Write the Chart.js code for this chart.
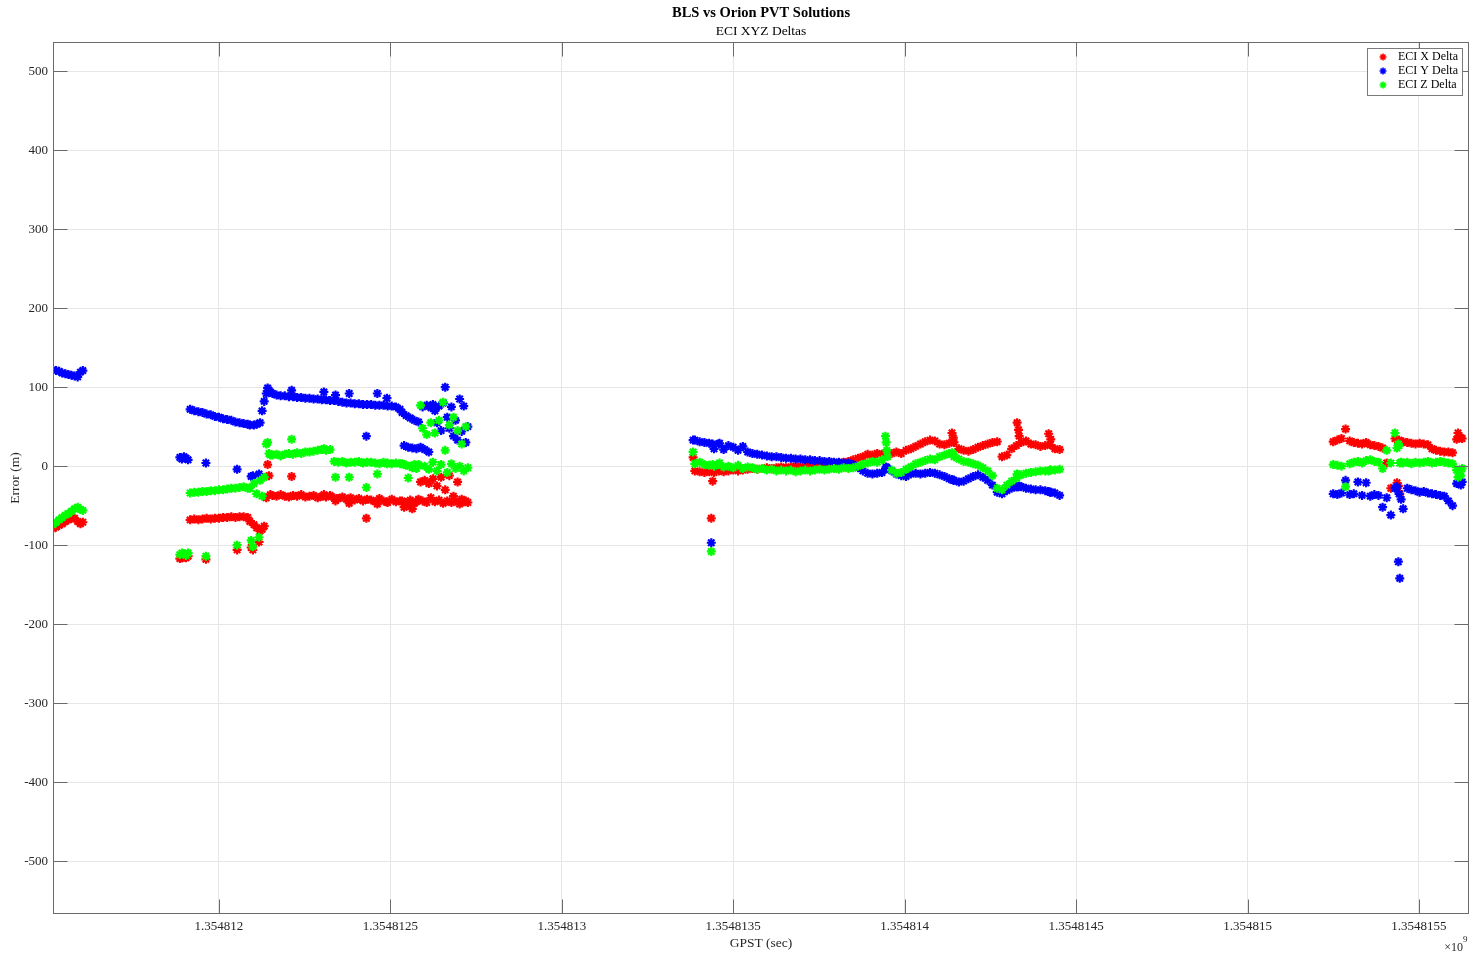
<!DOCTYPE html>
<html>
<head>
<meta charset="utf-8">
<title>BLS vs Orion PVT Solutions</title>
<script src="https://cdn.jsdelivr.net/npm/chart.js@4/dist/chart.umd.min.js"></script>
<style>
    html, body { margin: 0; padding: 0; background: #fff; }
    #wrap { width: 1480px; height: 957px; position: relative; }
</style>
</head>
<body>
<div id="wrap"><canvas id="pvtChart" width="1480" height="957"></canvas></div>
<script>
// GPST in seconds = GPST_BASE + offset
const GPST_BASE = 1354811000;

const seriesNames = ["ECI X Delta", "ECI Y Delta", "ECI Z Delta"];
const seriesColors = ["#ff0000", "#0000ff", "#00ff00"];

const gpstOffset = [
    // pass 1
    516, 525, 534, 543, 552, 561, 570, 579, 588, 596, 603,
    // pass 2
    886, 892, 898, 904, 910,
    916, 928, 940, 952, 964, 976, 988, 1000, 1012, 1024, 1036, 1048, 1060, 1072, 1084,
    962, 1053, 1094, 1099, 1117,
    1090, 1102, 1110, 1120, 1126, 1132, 1138, 1142, 1146, 1150,
    1156, 1168, 1180, 1192, 1204, 1216, 1228, 1240, 1252, 1264, 1276, 1288, 1300, 1312, 1324, 1336,
    1348, 1360, 1372, 1384, 1396, 1408, 1420, 1432, 1444, 1456, 1468, 1480, 1492, 1504, 1516, 1528,
    1212, 1306, 1340, 1380, 1430, 1462, 1490,
    1534, 1540, 1546, 1552, 1558, 1564, 1570, 1576, 1582, 1588, 1594, 1600, 1606, 1612, 1618, 1624,
    1630, 1636, 1642, 1648, 1654, 1660, 1666, 1672, 1678, 1684, 1690, 1696, 1702, 1708, 1714, 1720, 1726,
    // pass 3
    2388, 2402, 2416, 2430, 2444, 2458, 2472, 2486, 2500, 2514, 2528, 2542, 2556, 2570, 2584, 2598,
    2612, 2626, 2640, 2654, 2668, 2682, 2696, 2710, 2724, 2738, 2752, 2766, 2780, 2794, 2808, 2822,
    2836, 2850, 2864, 2878, 2892, 2906, 2920, 2934, 2948, 2962, 2976, 2990, 3004, 3018, 3032, 3046,
    3060, 3074, 3088, 3102, 3116, 3130, 3144, 3158, 3172, 3186, 3200, 3214, 3228, 3242, 3256, 3270,
    3284, 3298, 3312, 3326, 3340, 3354, 3368, 3382, 3396, 3410, 3424, 3438, 3452,
    2383, 2436, 2440, 2460, 2944, 2946, 2950, 3138, 3142, 3328, 3332, 3334, 3420, 3426,
    // pass 4
    4250, 4262, 4274, 4286, 4298, 4310, 4322, 4334, 4346, 4358, 4370, 4382, 4394, 4406, 4418, 4430,
    4442, 4454, 4466, 4478, 4490, 4502, 4514, 4526, 4538, 4550, 4562, 4574, 4586, 4598, 4610, 4622,
    4436, 4440, 4444, 4448, 4614, 4626
];

const eciXDelta = [
    -79, -77, -75, -73, -70, -68, -66, -66, -70, -73, -71,
    -117, -116, -115, -116, -114,
    -68, -67, -68, -67, -66, -67, -66, -66, -65, -65, -64, -65, -64, -64, -65,
    -118, -106, -103, -106, -96,
    -70, -74, -78, -82, -80, -76, -40, 2, -12, -36,
    -37, -38, -36, -38, -39, -37, -38, -36, -39, -38, -37, -40, -38, -39, -37, -40,
    -41, -39, -42, -40, -43, -41, -44, -42, -43, -45, -41, -44, -46, -42, -45, -44,
    -13, -36, -44, -47, -66, -48, -45,
    -44, -52, -46, -50, -43, -54, -47, -45, -42, -20, -44, -18, -46, -22, -40, -16,
    -45, -25, -43, -14, -47, -30, -44, -12, -46, -38, -44, -20, -48, -42, -45, -44, -46,
    -6, -7, -8, -7, -8, -6, -7, -6, -5, -6, -5, -4, -3, -4, -3, -2,
    -3, -2, -1, -2, -1, 0, -1, 0, 1, 1, 2, 2, 3, 3, 4, 5,
    6, 8, 10, 12, 15, 14, 16, 15, 17, 16, 18, 16, 20, 22, 25, 28,
    31, 33, 32, 28, 27, 29, 30, 22, 20, 19, 21, 24, 26, 28, 30, 31,
    12, 14, 22, 26, 30, 32, 28, 27, 25, 26, 27, 22, 21,
    11, -66, -19, -5, 16, 17, 15, 42, 36, 55, 46, 38, 41, 34,
    31, 33, 35, 47, 32, 30, 29, 28, 30, 27, 26, 25, 23, 4, -28, 35,
    33, 31, 30, 29, 28, 29, 28, 27, 22, 20, 19, 18, 18, 17, 34, 36,
    -21, -25, -35, 30, 42, 35
];

const eciYDelta = [
    122, 121, 120, 118, 117, 116, 115, 114, 113, 119, 121,
    11, 9, 12, 10, 8,
    72, 70, 69, 68, 66, 65, 63, 62, 60, 59, 58, 56, 55, 54, 53,
    4, -4, -13, -12, -10,
    52, 52, 53, 55, 70, 82, 92, 99, 96, 94,
    92, 90, 89, 89, 88, 88, 87, 87, 86, 86, 85, 85, 84, 84, 83, 83,
    82, 81, 80, 80, 79, 79, 78, 78, 78, 77, 77, 77, 76, 76, 75, 72,
    96, 94, 90, 92, 38, 92, 86,
    68, 26, 64, 24, 61, 23, 58, 22, 56, 24, 75, 21, 77, 18, 74, 78,
    70, 55, 76, 45, 80, 100, 62, 48, 75, 38, 58, 33, 85, 44, 76, 30, 50,
    33, 31, 30, 29, 22, 28, 21, 26, 24, 20, 25, 18, 16, 15, 14, 13,
    12, 12, 11, 10, 10, 9, 9, 8, 8, 7, 7, 6, 6, 5, 5, 4,
    4, 2, -2, -6, -9, -10, -9, -8, -2, -6, -10, -12, -13, -10, -9, -10,
    -9, -8, -9, -11, -13, -16, -18, -20, -19, -16, -13, -11, -14, -18, -24, -33,
    -35, -31, -28, -26, -26, -28, -29, -30, -30, -31, -33, -34, -37,
    33, -97, 28, 29, -4, -1, -3, -17, -18, -26, -26, -25, -32, -33,
    -35, -36, -34, -18, -36, -35, -20, -37, -21, -38, -36, -37, -52, -40, -62, -28,
    -35, -54, -28, -30, -31, -33, -32, -34, -35, -36, -37, -38, -44, -50, -22, -24,
    -26, -121, -142, -42, -21, -20
];

const eciZDelta = [
    -74, -71, -68, -65, -62, -60, -57, -54, -52, -55, -56,
    -112, -110, -111, -113, -110,
    -34, -33, -33, -32, -32, -31, -31, -30, -30, -29, -28, -28, -27, -26, -28,
    -114, -100, -94, -102, -90,
    -28, -22, -35, -18, -38, -14, 28, 30, 16, 14,
    14, 15, 13, 15, 16, 15, 17, 16, 18, 18, 19, 20, 21, 20, 21, 6,
    5, 6, 4, 5, 5, 6, 4, 5, 5, 4, 3, 5, 4, 3, 4, 3,
    34, 22, -14, -14, -27, -10, 3,
    3, 2, 1, -15, 0, -2, 2, -3, 2, 77, 48, 0, 40, -4, 55, 5,
    42, -6, 58, 2, 81, 20, -8, 52, 3, 62, -3, 45, 0, 28, -6, 50, -2,
    3, 5, 2, 1, 0, 2, -1, 0, -2, 1, -3, -1, -2, -4, -3, -5,
    -4, -6, -5, -6, -5, -7, -6, -5, -6, -5, -4, -5, -4, -3, -4, -2,
    -3, -2, 0, 2, 4, 6, 5, 8, 20, -5, -9, -8, -4, -1, 3, 5,
    7, 9, 8, 12, 14, 16, 12, 9, 6, 5, 3, 1, -2, -6, -12, -28,
    -30, -24, -19, -15, -11, -9, -8, -7, -6, -6, -5, -5, -4,
    18, -108, 2, 4, 38, 30, 12, 17, 15, -10, -11, -12, -6, -5,
    2, 1, 0, -26, 3, 5, 6, 4, 7, 8, 6, 5, -3, 20, 4, 42,
    26, 4, 5, 3, 5, 4, 5, 6, 4, 5, 6, 5, 4, 3, -5, -12,
    23, 28, 4, 5, -14, -3
];

const xTickValues = [1354812000, 1354812500, 1354813000, 1354813500, 1354814000, 1354814500, 1354815000, 1354815500];
const yTickValues = [-500, -400, -300, -200, -100, 0, 100, 200, 300, 400, 500];
const xLimits = [GPST_BASE + 516, GPST_BASE + 4646];
const yLimits = [-567, 537];

const FONT = '"Liberation Serif", "Times New Roman", serif';

function toPoints(values) {
    return gpstOffset.map((t, i) => ({ x: GPST_BASE + t, y: values[i] }));
}

// trace du cadre, des graduations internes, des titres et de la légende
const matlabFrame = {
    id: "matlabFrame",
    afterDraw(chart) {
        const ctx = chart.ctx;
        const a = chart.chartArea;
        const xs = chart.scales.x;
        const ys = chart.scales.y;
        const L = Math.round(a.left) + 0.5, R = Math.round(a.right) - 0.5;
        const T = Math.round(a.top) + 0.5, B = Math.round(a.bottom) - 0.5;
        ctx.save();

        ctx.strokeStyle = "#6a6a6a";
        ctx.lineWidth = 1;
        ctx.beginPath();
        xs.ticks.forEach(tk => {
            const px = Math.round(xs.getPixelForValue(tk.value)) + 0.5;
            ctx.moveTo(px, B); ctx.lineTo(px, B - 14);
            ctx.moveTo(px, T); ctx.lineTo(px, T + 14);
        });
        ys.ticks.forEach(tk => {
            const py = Math.round(ys.getPixelForValue(tk.value)) + 0.5;
            ctx.moveTo(L, py); ctx.lineTo(L + 14, py);
            ctx.moveTo(R, py); ctx.lineTo(R - 14, py);
        });
        ctx.stroke();

        ctx.strokeStyle = "#6a6a6a";
        ctx.strokeRect(L, T, R - L, B - T);

        // titres
        const cx = (a.left + a.right) / 2;
        ctx.fillStyle = "#000";
        ctx.textAlign = "center";
        ctx.textBaseline = "middle";
        ctx.font = "bold 14.5px " + FONT;
        ctx.fillText("BLS vs Orion PVT Solutions", cx, 13);
        ctx.font = "13.5px " + FONT;
        ctx.fillText("ECI XYZ Deltas", cx, 31);

        ctx.fillStyle = "#262626";
        ctx.font = "13.5px " + FONT;
        ctx.fillText("GPST (sec)", cx, 943);
        ctx.save();
        ctx.translate(15, (a.top + a.bottom) / 2);
        ctx.rotate(-Math.PI / 2);
        ctx.fillText("Error (m)", 0, 0);
        ctx.restore();

        ctx.textAlign = "right";
        ctx.font = "12px " + FONT;
        ctx.fillText("\u00d710", 1463, 948);
        ctx.textAlign = "left";
        ctx.font = "9px " + FONT;
        ctx.fillText("9", 1463, 940);

        // légende
        const lx = 1367, ly = 48, lw = 95, lh = 47;
        ctx.fillStyle = "#fff";
        ctx.fillRect(lx, ly, lw, lh);
        ctx.strokeStyle = "#7a7a7a";
        ctx.strokeRect(lx + 0.5, ly + 0.5, lw, lh);
        ctx.font = "12px " + FONT;
        ctx.textBaseline = "middle";
        seriesNames.forEach((name, i) => {
            const my = ly + 9 + i * 14;
            const mx = lx + 16;
            ctx.strokeStyle = seriesColors[i];
            ctx.lineWidth = 1.6;
            ctx.beginPath();
            for (let k = 0; k < 4; k++) {
                const ang = k * Math.PI / 4;
                ctx.moveTo(mx - 3.5 * Math.cos(ang), my - 3.5 * Math.sin(ang));
                ctx.lineTo(mx + 3.5 * Math.cos(ang), my + 3.5 * Math.sin(ang));
            }
            ctx.stroke();
            ctx.fillStyle = "#000";
            ctx.fillText(name, lx + 31, my);
        });

        ctx.restore();
    }
};

const seriesValues = [eciXDelta, eciYDelta, eciZDelta];

new Chart(document.getElementById("pvtChart").getContext("2d"), {
    type: "scatter",
    data: {
        datasets: seriesNames.map((name, i) => ({
            label: name,
            data: toPoints(seriesValues[i]),
            pointStyle: "star",
            pointRadius: 4.5,
            pointBorderWidth: 2.2,
            borderColor: seriesColors[i],
            backgroundColor: seriesColors[i],
            order: 2 - i
        }))
    },
    options: {
        responsive: false,
        animation: false,
        devicePixelRatio: 1,
        layout: { padding: { top: 42, right: 11, left: 0, bottom: 0 } },
        plugins: {
            legend: { display: false },
            title: { display: false },
            tooltip: { enabled: false }
        },
        scales: {
            x: {
                type: "linear",
                min: xLimits[0],
                max: xLimits[1],
                afterBuildTicks: scale => { scale.ticks = xTickValues.map(v => ({ value: v })); },
                afterFit: scale => { scale.height = 43; },
                grid: { color: "#e6e6e6", drawTicks: false },
                border: { display: false },
                ticks: {
                    autoSkip: false,
                    maxRotation: 0,
                    padding: 5,
                    color: "#262626",
                    font: { family: FONT, size: 13 },
                    callback: v => parseFloat((v / 1e9).toFixed(7)).toString()
                }
            },
            y: {
                min: yLimits[0],
                max: yLimits[1],
                afterBuildTicks: scale => { scale.ticks = yTickValues.map(v => ({ value: v })); },
                afterFit: scale => { scale.width = 53; },
                grid: { color: "#e6e6e6", drawTicks: false },
                border: { display: false },
                ticks: {
                    padding: 5,
                    color: "#262626",
                    font: { family: FONT, size: 13 },
                    callback: v => String(v)
                }
            }
        }
    },
    plugins: [matlabFrame]
});
</script>
</body>
</html>
